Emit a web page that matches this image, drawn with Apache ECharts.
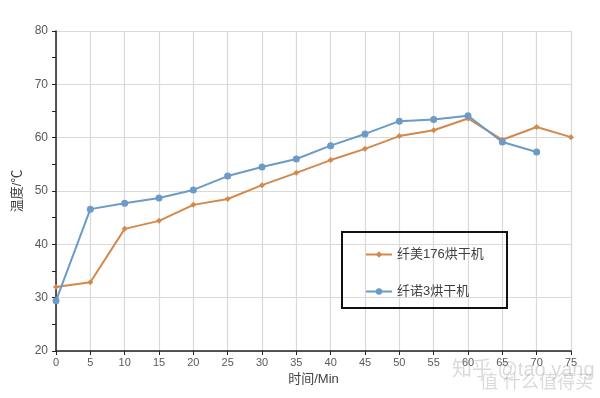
<!DOCTYPE html>
<html>
<head>
<meta charset="utf-8">
<script src="https://cdn.jsdelivr.net/npm/echarts@6/dist/echarts.min.js"></script>
<style>
  html, body { margin: 0; padding: 0; background: #fff; }
  #chart { width: 600px; height: 398px; }
</style>
</head>
<body>
<div id="chart"></div>
<script>
// 时间 (min) 与两台烘干机的温度
const times = [0, 5, 10, 15, 20, 25, 30, 35, 40, 45, 50, 55, 60, 65, 70, 75]
const xianmei = [32.0, 32.9, 42.9, 44.4, 47.4, 48.5, 51.1, 53.4, 55.8, 57.9, 60.3, 61.4, 63.6, 59.6, 62.0, 60.1]
const xiannuo = [29.4, 46.6, 47.7, 48.7, 50.2, 52.8, 54.5, 56.0, 58.5, 60.7, 63.1, 63.4, 64.1, 59.2, 57.3]

const ORANGE = '#d4894c'
const BLUE = '#6b9bc6'
const font = '"Liberation Sans", "Noto Sans CJK SC", sans-serif'

const chart = echarts.init(document.getElementById('chart'))

const pairs = (ys) => ys.map((v, i) => [times[i], v])

chart.setOption({
  animation: false,
  textStyle: { fontFamily: font },
  grid: { left: 56, right: 29, top: 31, bottom: 47 },
  legend: {
    left: 360, top: 243,
    orient: 'vertical',
    itemGap: 24,
    itemWidth: 26, itemHeight: 8,
    textStyle: { fontSize: 13, color: '#404040', fontFamily: font },
    data: ['纤美176烘干机', '纤诺3烘干机']
  },
  graphic: [
    {
      type: 'rect',
      shape: { x: 342, y: 232, width: 165, height: 76 },
      style: { fill: 'rgba(255,255,255,0)', stroke: '#111', lineWidth: 2 },
      z: 100
    },
    {
      type: 'text', left: 452, top: 360,
      style: { text: '知乎 @tao yang', fill: 'rgba(150,150,150,0.35)', font: '20px ' + font },
      z: 100
    },
    {
      type: 'text', left: 480, top: 374,
      style: { text: '值 什么值得买', fill: 'rgba(150,150,150,0.35)', font: '18px ' + font },
      z: 100
    }
  ],
  xAxis: {
    type: 'value',
    min: 0, max: 75, interval: 5,
    name: '时间/Min',
    nameLocation: 'middle',
    nameGap: 22,
    nameTextStyle: { fontSize: 13, color: '#404040' },
    axisLine: { lineStyle: { color: '#222', width: 1.5 } },
    axisTick: { show: true, length: 4, lineStyle: { color: '#222' } },
    axisLabel: { fontSize: 11, color: '#595959', margin: 6 },
    splitLine: { show: true, lineStyle: { color: '#d9d9d9', width: 1.2 } }
  },
  yAxis: {
    type: 'value',
    min: 20, max: 80, interval: 10,
    name: '温度/℃',
    nameLocation: 'middle',
    nameGap: 27,
    nameTextStyle: { fontSize: 13, color: '#404040' },
    axisLine: { show: true, lineStyle: { color: '#222', width: 1.5 } },
    axisTick: { show: true, length: 4, lineStyle: { color: '#222' } },
    minorTick: { show: true, splitNumber: 2, length: 4, lineStyle: { color: '#222' } },
    axisLabel: { fontSize: 12, color: '#595959', margin: 8 },
    splitLine: { show: true, lineStyle: { color: '#d9d9d9', width: 1.2 } }
  },
  series: [
    {
      name: '纤美176烘干机',
      type: 'line',
      data: pairs(xianmei),
      symbol: 'diamond',
      symbolSize: 6,
      color: ORANGE,
      lineStyle: { width: 2, color: ORANGE },
      itemStyle: { color: ORANGE }
    },
    {
      name: '纤诺3烘干机',
      type: 'line',
      data: pairs(xiannuo),
      symbol: 'circle',
      symbolSize: 7,
      color: BLUE,
      lineStyle: { width: 2, color: BLUE },
      itemStyle: { color: BLUE }
    }
  ]
})
</script>
</body>
</html>
